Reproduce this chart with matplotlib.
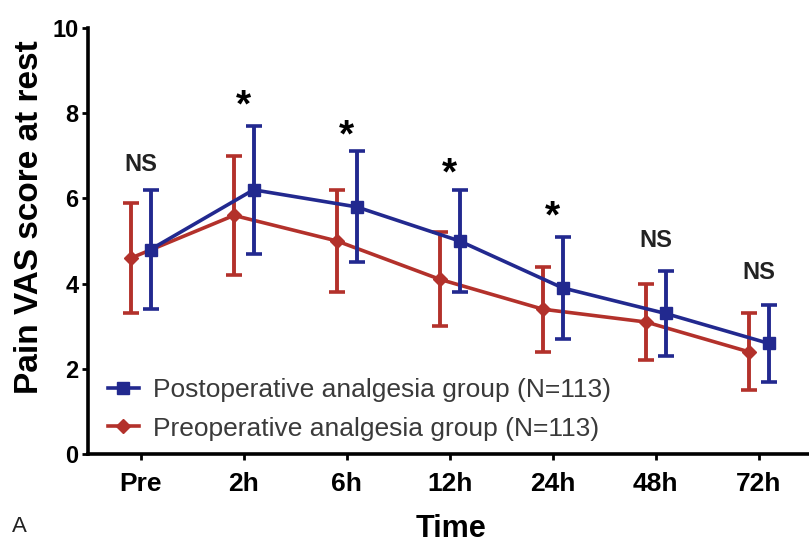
import numpy as np
import matplotlib
matplotlib.use("Agg")
import matplotlib.pyplot as plt

# data (mean +/- SD)
timepoints = ["Pre", "2h", "6h", "12h", "24h", "48h", "72h"]
post_mean = [4.8, 6.2, 5.8, 5.0, 3.9, 3.3, 2.6]
post_sd = [1.4, 1.5, 1.3, 1.2, 1.2, 1.0, 0.9]
pre_mean = [4.6, 5.6, 5.0, 4.1, 3.4, 3.1, 2.4]
pre_sd = [1.3, 1.4, 1.2, 1.1, 1.0, 0.9, 0.9]
sig_labels = ["NS", "*", "*", "*", "*", "NS", "NS"]
sig_y = [6.8, 8.4, 7.7, 6.8, 5.8, 5.0, 4.25]

blue = "#22298f"
red = "#b3312b"
plt.rcParams["font.family"] = ["Liberation Sans", "DejaVu Sans"]

fig = plt.figure(figsize=(8.09, 5.44), dpi=100)
ax = fig.add_axes([0.109, 0.165, 0.95, 0.784])

x = np.arange(len(timepoints))
off = 0.095
eb_post = ax.errorbar(x + off, post_mean, yerr=post_sd, color=blue, lw=2.6, marker="s", ms=9,
                      capsize=5.5, capthick=2.6, elinewidth=2.8, zorder=3)
eb_pre = ax.errorbar(x - off, pre_mean, yerr=pre_sd, color=red, lw=2.6, marker="D", ms=7,
                     capsize=5.5, capthick=2.6, elinewidth=2.8, zorder=2)

for xi, lab, yy in zip(x, sig_labels, sig_y):
    if lab == "*":
        ax.text(xi, yy - 0.25, lab, ha="center", va="center", fontsize=28, fontweight="bold")
    else:
        ax.text(xi, yy, lab, ha="center", va="center", fontsize=17, fontweight="bold", color="#222222")

ax.set_xlim(-0.51, 6.95)
ax.set_ylim(0, 10)
ax.set_yticks([0, 2, 4, 6, 8, 10])
ax.set_xticks(x)
ax.set_xticklabels(timepoints)
for s in ["top", "right"]:
    ax.spines[s].set_visible(False)
for s in ["left", "bottom"]:
    ax.spines[s].set_linewidth(2.6)
ax.tick_params(width=2, length=4)
ax.tick_params(axis="y", labelsize=17, pad=3)
ax.tick_params(axis="x", labelsize=19, pad=9)
for t in ax.get_xticklabels() + ax.get_yticklabels():
    t.set_fontweight("bold")
ax.set_ylabel("Pain VAS score at rest", fontsize=24, fontweight="bold", labelpad=5)
ax.yaxis.label.set_y(0.556)
ax.set_xlabel("Time", fontsize=22, fontweight="bold", labelpad=13)
ax.xaxis.label.set_x(0.472)

ax.legend([eb_post[0], eb_pre[0]],
          ["Postoperative analgesia group (N=113)", "Preoperative analgesia group (N=113)"],
          loc="lower left", bbox_to_anchor=(0.026, 0.032), borderaxespad=0, borderpad=0,
          frameon=False, fontsize=19, handlelength=1.15, handletextpad=0.55,
          labelspacing=0.55, labelcolor="#3a3a3a")
fig.text(0.015, 0.022, "A", fontsize=16, color="#222222")

fig.savefig("out.png", dpi=100)
